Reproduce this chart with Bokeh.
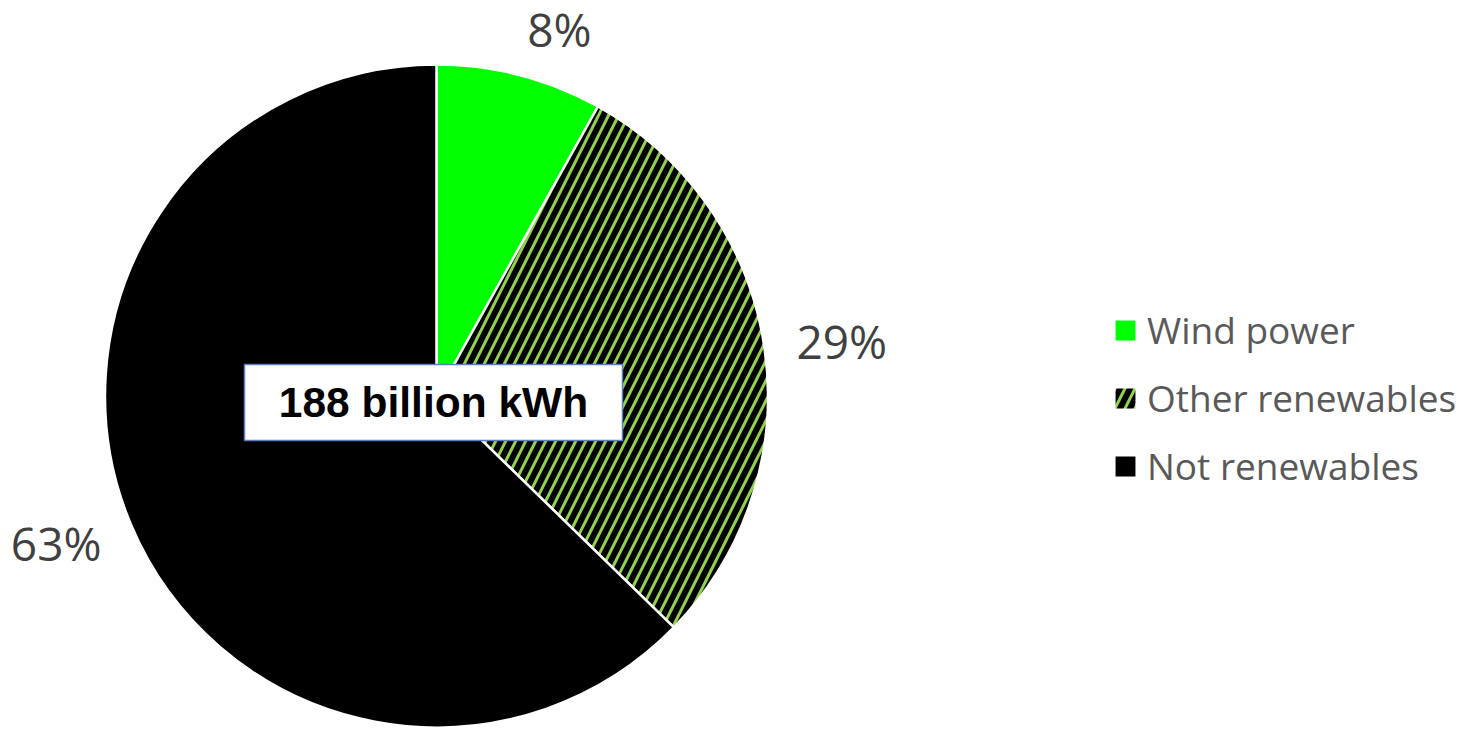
import math
from bokeh.plotting import figure
from bokeh.models import Legend, LegendItem, Range1d
from bokeh.core.properties import value
from bokeh.embed import file_html
from bokeh.resources import INLINE

# ---- data ----
categories = ["Wind power", "Other renewables", "Not renewables"]
shares = [8.1, 29.2, 62.7]          # percent of total
pct_labels = ["8%", "29%", "63%"]
total_label = "188 billion kWh"

# ---- style ----
fill_colors = ["#00FF00", "#000000", "#000000"]
hatch_patterns = [" ", "/", " "]
hatch_color = "#92D050"

W, H = 1461, 729
p = figure(width=W, height=H, output_backend="svg", toolbar_location=None,
           x_range=Range1d(0, W), y_range=Range1d(0, H), min_border=0)
p.axis.visible = False
p.grid.visible = False
p.outline_line_color = None
p.background_fill_color = "white"

cx, cy, r = 436, H - 395.5, 331.5

tot = sum(shares)
starts, ends, mids = [], [], []
cum = 0.0
for s in shares:
    a0 = math.pi / 2 - 2 * math.pi * cum / tot
    cum += s
    a1 = math.pi / 2 - 2 * math.pi * cum / tot
    starts.append(a0)
    ends.append(a1)
    mids.append((a0 + a1) / 2)

renderers = []
for i in range(len(categories)):
    rr = p.wedge(x=cx, y=cy, radius=r, start_angle=starts[i], end_angle=ends[i],
                 direction="clock", fill_color=fill_colors[i],
                 hatch_pattern=hatch_patterns[i], hatch_color=hatch_color,
                 hatch_scale=20, hatch_weight=3,
                 line_color="white", line_width=2.5)
    renderers.append(rr)

# percentage labels outside the slices ("outside end" placement)
lx, ly = [], []
est_w = [62, 88, 88]
for i, m in enumerate(mids):
    ux, uy = math.cos(m), math.sin(m)
    d = r + 33.5
    lx.append(cx + d * ux + math.copysign(est_w[i] / 2, ux))
    ly.append(cy + d * uy + uy * 14)
p.text(x=lx, y=ly, text=pct_labels, text_align="center", text_baseline="middle",
       text_font=value("Open Sans"), text_font_size="46px", text_color="#404040")

# centre box
bx, by = cx - 3, cy - 6.5
p.rect(x=bx, y=by, width=378, height=76, fill_color="white",
       line_color="#5B7FBF", line_width=1.5)
p.text(x=[bx], y=[by], text=[total_label], text_align="center",
       text_baseline="middle", text_font=value("Liberation Sans"),
       text_font_style="bold", text_font_size="42.5px", text_color="#000000")

legend = Legend(items=[LegendItem(label=categories[i], renderers=[renderers[i]])
                       for i in range(len(categories))],
                location=(1111, H - 491))
legend.glyph_width = 28
legend.glyph_height = 28
legend.label_standoff = 8
legend.label_text_font = "Open Sans"
legend.label_text_font_size = "37px"
legend.label_text_color = "#595959"
legend.spacing = 17
legend.padding = 0
legend.margin = 0
legend.border_line_color = None
legend.background_fill_alpha = 0
p.add_layout(legend)

open("out.html", "w").write(file_html(p, INLINE))
